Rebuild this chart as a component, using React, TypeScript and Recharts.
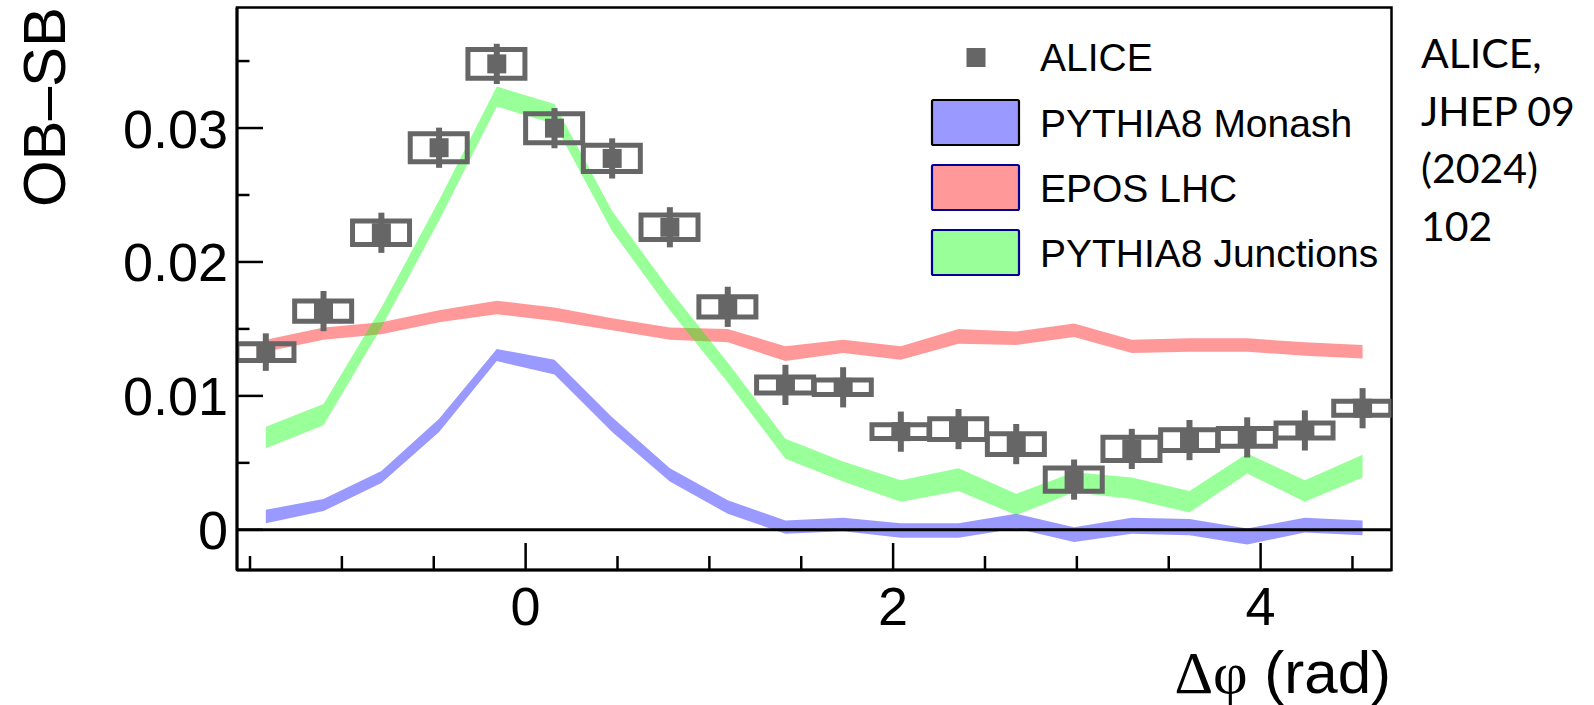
import React from 'react';
import {
  ComposedChart,
  Area,
  Bar,
  Scatter,
  ErrorBar,
  XAxis,
  YAxis,
  ReferenceLine,
  ReferenceArea,
  Legend,
} from 'recharts';

// Δφ bin centres (20 bins over [-π/2, 3π/2])
const DPHI = [
  -1.414, -1.1, -0.785, -0.471, -0.157, 0.157, 0.471, 0.785, 1.1, 1.414,
  1.728, 2.042, 2.356, 2.67, 2.985, 3.299, 3.613, 3.927, 4.241, 4.555,
];

// ALICE measurement: value, statistical and systematic uncertainty
const ALICE = [
  0.01327, 0.01633, 0.02218, 0.02853, 0.03479, 0.02999, 0.02773, 0.02259, 0.01665, 0.01082,
  0.01064, 0.00733, 0.00752, 0.0064, 0.00375, 0.00604, 0.0067, 0.0069, 0.00742, 0.00908,
];
const ALICE_STAT = [
  0.0014, 0.0015, 0.0015, 0.0015, 0.0015, 0.0015, 0.0015, 0.0015, 0.0015, 0.0015,
  0.0015, 0.0015, 0.0015, 0.0015, 0.0015, 0.0015, 0.0015, 0.0015, 0.0015, 0.0015,
];
const ALICE_SYST = [
  0.00062, 0.00075, 0.00087, 0.00105, 0.00108, 0.00108, 0.00098, 0.00091, 0.00075, 0.0006,
  0.00054, 0.00052, 0.00078, 0.00078, 0.00087, 0.00087, 0.00078, 0.00066, 0.00056, 0.00052,
];

// Model bands (lower / upper edge)
const MONASH_LO = [
  0.0005, 0.0014, 0.0035, 0.0073, 0.0126, 0.0116, 0.0073, 0.0036, 0.0012, -0.0003,
  -0.0001, -0.0006, -0.0006, 0.0001, -0.0009, -0.0003, -0.0004, -0.0011, -0.0002, -0.0004,
];
const MONASH_HI = [
  0.0015, 0.0023, 0.0044, 0.0083, 0.0135, 0.0127, 0.0084, 0.0046, 0.0022, 0.0007,
  0.0009, 0.0005, 0.0005, 0.0012, 0.0002, 0.0009, 0.0008, 0.0001, 0.0009, 0.0007,
];
const EPOS_LO = [
  0.0133, 0.0142, 0.0146, 0.0155, 0.0161, 0.0156, 0.0149, 0.0142, 0.014, 0.0126,
  0.0132, 0.0127, 0.0139, 0.0138, 0.0144, 0.0132, 0.0133, 0.0133, 0.013, 0.0128,
];
const EPOS_HI = [
  0.0142, 0.0151, 0.0155, 0.0164, 0.0171, 0.0166, 0.0158, 0.0151, 0.015, 0.0137,
  0.0142, 0.0137, 0.015, 0.0148, 0.0154, 0.0142, 0.0143, 0.0143, 0.014, 0.0138,
];
const JUNC_LO = [
  0.0061, 0.0078, 0.0151, 0.0231, 0.0316, 0.0303, 0.0223, 0.0164, 0.011, 0.0053,
  0.0036, 0.0021, 0.0029, 0.0011, 0.0028, 0.0023, 0.0013, 0.0042, 0.0021, 0.0039,
];
const JUNC_HI = [
  0.0077, 0.0094, 0.0166, 0.0246, 0.0331, 0.0318, 0.0238, 0.0179, 0.0125, 0.0068,
  0.0051, 0.0037, 0.0046, 0.0027, 0.0043, 0.0039, 0.0029, 0.0057, 0.0037, 0.0056,
];

const X_TICKS = [-1.5, -1, -0.5, 0, 0.5, 1, 1.5, 2, 2.5, 3, 3.5, 4, 4.5];
const X_LABELED = [0, 2, 4];
const Y_TICKS = [0, 0.005, 0.01, 0.015, 0.02, 0.025, 0.03, 0.035];
const Y_LABELED = [0, 0.01, 0.02, 0.03];

const X_DOMAIN: [number, number] = [-Math.PI / 2, (3 * Math.PI) / 2];
const Y_DOMAIN: [number, number] = [-0.003, 0.039];

const LEGEND_ITEMS = [
  { name: 'PYTHIA8 Monash', color: '#0000ff', border: '#000000' },
  { name: 'EPOS LHC', color: '#ff0000', border: '#000099' },
  { name: 'PYTHIA8 Junctions', color: '#00ff00', border: '#000099' },
];
const CITATION = ['ALICE,', 'JHEP 09', '(2024)', '102'];

const rows = DPHI.map((x, i) => ({
  x,
  alice: ALICE[i],
  stat: ALICE_STAT[i],
  syst: [ALICE[i] - ALICE_SYST[i], ALICE[i] + ALICE_SYST[i]],
  monash: [MONASH_LO[i], MONASH_HI[i]],
  epos: [EPOS_LO[i], EPOS_HI[i]],
  junctions: [JUNC_LO[i], JUNC_HI[i]],
}));

const SANS = '"Liberation Sans", Arial, Helvetica, sans-serif';
const GREY = '#666666';
const BAND_OPACITY = 0.4;

const isIn = (list: number[], v: number) => list.some((t) => Math.abs(t - v) < 1e-9);

const YTick = (props: any) => {
  const { x, y, payload } = props;
  const v = payload.value;
  const major = isIn(Y_LABELED, v);
  return (
    <g>
      <line x1={x} y1={y} x2={x + (major ? 26 : 12.5)} y2={y} stroke="#000" strokeWidth={2.5} />
      {major && (
        <text x={x - 9} y={y} dy={19.5} textAnchor="end" fontSize={54} fontFamily={SANS} fill="#000">
          {String(v)}
        </text>
      )}
    </g>
  );
};

const XTick = (props: any) => {
  const { x, y, payload } = props;
  const v = payload.value;
  const major = isIn(X_LABELED, v);
  return (
    <g>
      <line x1={x} y1={y} x2={x} y2={y - (major ? 27 : 14)} stroke="#000" strokeWidth={2.5} />
      {major && (
        <text x={x} y={y} dy={55} textAnchor="middle" fontSize={54} fontFamily={SANS} fill="#000">
          {String(v)}
        </text>
      )}
    </g>
  );
};

const YTitle = () => (
  <text
    x={65}
    y={107}
    transform="rotate(-90, 65, 107)"
    textAnchor="middle"
    fontSize={60}
    fontFamily={SANS}
    fill="#000"
  >
    OB–SB
  </text>
);

const XTitle = () => (
  <text x={1391} y={693} textAnchor="end" fontSize={60} fontFamily={SANS} fill="#000">
    <tspan fontFamily='"Liberation Serif", "DejaVu Serif", serif'>Δφ</tspan>
    <tspan> (rad)</tspan>
  </text>
);

const AliceMarker = (props: any) => {
  const { cx, cy } = props;
  if (cx == null || cy == null) return <g />;
  return <rect x={cx - 9.5} y={cy - 9.5} width={19} height={19} fill={GREY} />;
};

const LegendBox = () => (
  <svg width={480} height={260} style={{ display: 'block', overflow: 'visible' }}>
    <rect x={46.5} y={18} width={19} height={19} fill={GREY} />
    <text x={120} y={41} fontSize={39} fontFamily={SANS} fill="#000">
      ALICE
    </text>
    {LEGEND_ITEMS.map((it, i) => (
      <g key={it.name}>
        <rect
          x={12}
          y={70 + i * 65}
          width={87}
          height={45}
          rx={1.5}
          fill={it.color}
          fillOpacity={BAND_OPACITY}
          stroke={it.border}
          strokeWidth={2.2}
        />
        <text x={120} y={107.3 + i * 65} fontSize={39} fontFamily={SANS} fill="#000">
          {it.name}
        </text>
      </g>
    ))}
  </svg>
);

export default function App() {
  return (
    <div
      style={{
        position: 'absolute',
        left: 0,
        top: 0,
        width: 1594,
        height: 705,
        background: '#ffffff',
        overflow: 'hidden',
      }}
    >
      <ComposedChart
        width={1594}
        height={705}
        data={rows}
        margin={{ top: 7.5, right: 202.5, bottom: 0, left: 0 }}
      >
        <XAxis
          dataKey="x"
          type="number"
          domain={X_DOMAIN}
          allowDataOverflow
          ticks={X_TICKS}
          interval={0}
          tickSize={0}
          tickMargin={0}
          tick={<XTick />}
          height={135}
          axisLine={{ stroke: '#000', strokeWidth: 3 }}
          tickLine={false}
          label={<XTitle />}
        />
        <YAxis
          type="number"
          domain={Y_DOMAIN}
          allowDataOverflow
          ticks={Y_TICKS}
          interval={0}
          tickSize={0}
          tickMargin={0}
          tick={<YTick />}
          width={237}
          axisLine={{ stroke: '#000', strokeWidth: 3 }}
          tickLine={false}
          label={<YTitle />}
        />
        <ReferenceArea
          x1={X_DOMAIN[0]}
          x2={X_DOMAIN[1]}
          y1={Y_DOMAIN[0]}
          y2={Y_DOMAIN[1]}
          fill="none"
          stroke="#000"
          strokeWidth={2.5}
          ifOverflow="visible"
        />
        <ReferenceLine y={0} stroke="#000" strokeWidth={3} />
        <Area
          dataKey="monash"
          type="linear"
          stroke="none"
          fill="#0000ff"
          fillOpacity={BAND_OPACITY}
          isAnimationActive={false}
        />
        <Area
          dataKey="epos"
          type="linear"
          stroke="none"
          fill="#ff0000"
          fillOpacity={BAND_OPACITY}
          isAnimationActive={false}
        />
        <Area
          dataKey="junctions"
          type="linear"
          stroke="none"
          fill="#00ff00"
          fillOpacity={BAND_OPACITY}
          isAnimationActive={false}
        />
        <Bar
          dataKey="syst"
          barSize={57}
          fill="none"
          stroke={GREY}
          strokeWidth={5}
          isAnimationActive={false}
        />
        <Scatter dataKey="alice" fill={GREY} shape={<AliceMarker />} isAnimationActive={false}>
          <ErrorBar dataKey="stat" direction="y" width={0} stroke={GREY} strokeWidth={6} />
        </Scatter>
        <Legend
          layout="vertical"
          align="center"
          verticalAlign="middle"
          content={<LegendBox />}
          wrapperStyle={{ left: 920, top: 30, width: 480, height: 260 }}
        />
      </ComposedChart>
      <svg
        width={175}
        height={260}
        style={{ position: 'absolute', left: 1414, top: 0, overflow: 'visible' }}
      >
        {CITATION.map((line, i) => (
          <text
            key={line}
            x={7}
            y={68 + i * 57.5}
            fontSize={41}
            fontFamily='Lato, "Open Sans", sans-serif'
            fill="#000"
          >
            {line}
          </text>
        ))}
      </svg>
    </div>
  );
}
